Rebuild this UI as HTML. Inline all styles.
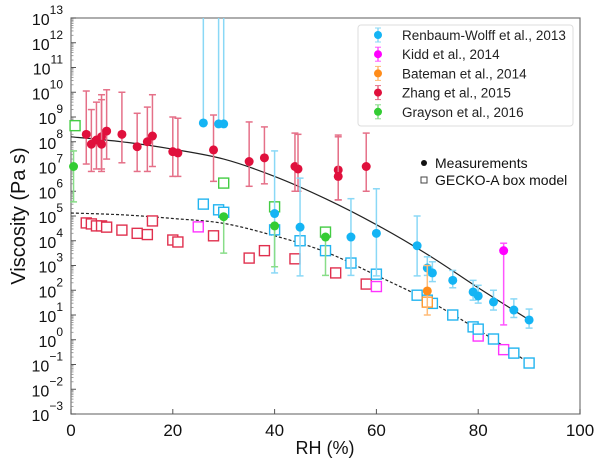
<!DOCTYPE html>
<html><head><meta charset="utf-8"><style>
body{margin:0;background:#fff}
svg{font-family:"Liberation Sans",Arial,sans-serif;display:block}
</style></head><body>
<svg id="c" width="600" height="465" viewBox="0 0 600 465"></svg>
<script>
// data: [RH, log10 mid, log10 lo, log10 hi]
const zhang=[[3,8.3,7.1,10.05],[4,7.9,6.8,9.3],[5,8.07,6.9,9.6],[6,8.2,6.8,9.9],[6,7.9,6.9,9.7],[7,8.43,7.3,10.1],[10,8.3,7.15,10.0],[13,7.8,6.8,9.15],[15,8.0,6.8,9.4],[16,8.23,7.0,9.9],[20,7.6,6.6,9.0],[21,7.55,6.6,8.95],[28,7.67,6.4,9.08],[35,7.2,6.2,8.8],[38,7.35,6.3,8.6],[44,7.0,6.0,8.35],[44.6,6.9,6.0,8.3],[52.5,6.86,5.65,8.27],[52.5,6.6,5.65,8.2],[58,7.0,6.0,8.35]];
const renbaum=[[26,8.76,8.76,13],[29,8.72,8.72,13],[30,8.72,8.72,13],[40,5.1,2.7,7.63],[45,4.55,2.58,6.53],[55,4.15,2.6,5.7],[60,4.3,2.58,6.1],[68,3.8,2.58,5.0],[70,2.9,2.6,3.35],[71,2.7,2.35,3.15],[75,2.4,2.1,2.8],[79,1.93,1.6,2.4],[80,1.77,1.48,2.2],[83,1.53,1.2,2.0],[87,1.2,0.9,1.65],[90,0.8,0.47,1.24]];
const kidd=[[85,3.6,0.6,3.9]];
const bateman=[[70,1.97,1.0,3.0]];
const grayson=[[0.5,7.0,5.57,7.63],[30,4.97,3.5,4.97],[40,4.6,2.95,4.6],[50,4.15,2.6,4.15]];
// GECKO-A model boxes: [RH, log10]
const mGreen=[[0.8,8.65],[30,6.33],[40,5.37],[50,4.35]];
const mBlue=[[26,5.48],[29,5.25],[30,5.15],[40,4.44],[45,4.0],[50,3.6],[55,3.1],[60,2.65],[68,1.8],[70,1.6],[71,1.47],[75,1.0],[79,0.52],[80,0.43],[83,0.03],[87,-0.54],[90,-0.94]];
const mOrange=[[70,1.52]];
const mMagenta=[[25,4.56],[60,2.15],[80,0.15],[85,-0.4]];
const mRed=[[3,4.72],[4,4.68],[5,4.6],[6,4.6],[7,4.55],[10,4.43],[13,4.3],[15,4.25],[16,4.8],[20,4.03],[21,3.95],[28,4.2],[35,3.3],[38,3.6],[44,3.27],[52,2.7],[58,2.25]];
const fitRH=[0,10,20,30,40,50,60,70,80,90];
const fitMeas=[8.2,8.0,7.7,7.3,6.6,5.7,4.65,3.45,2.1,0.8];
const fitModel=[5.12,5.05,4.9,4.7,4.2,3.55,2.6,1.6,0.4,-0.94];
const xTicks=[0,20,40,60,80,100];
const yExps=[13,12,11,10,9,8,7,6,5,4,3,2,1,0,-1,-2,-3];

const X0=71,X1=580,Y0=18,Y1=414,LMIN=-3,LMAX=13;
const sx=v=>X0+(v/100)*(X1-X0);
const sy=v=>Y1-(v-LMIN)/(LMAX-LMIN)*(Y1-Y0);
const svg=document.getElementById('c');const NS='http://www.w3.org/2000/svg';
function mk(t,a,p){const e=document.createElementNS(NS,t);for(const k in a)e.setAttribute(k,a[k]);(p||svg).appendChild(e);return e;}

const frame=mk('rect',{x:X0,y:Y0,width:X1-X0,height:Y1-Y0,fill:'none',stroke:'#777','stroke-width':1.2});


const yg=mk('g',{});


yExps.forEach(e=>{
  const y=sy(e);
  mk('line',{x1:X0,x2:X0+5,y1:y,y2:y,stroke:'#555'},yg);
  if(e>LMIN) for(let m=2;m<10;m++){const yy=sy(e-1+Math.log10(m));mk('line',{x1:X0,x2:X0+2.5,y1:yy,y2:yy,stroke:'#888','stroke-width':0.8},yg);}
  const t=mk('text',{x:X0-8,y:y+7,'text-anchor':'end','font-size':16,fill:'#111'},yg);
  
  
  t.textContent='10';
  const s=mk('tspan',{dy:-11,'font-size':12},t);s.textContent=e<0?'\u2212'+(-e):String(e);
});
const xg=mk('g',{});


xTicks.forEach(v=>{
  const x=sx(v);
  mk('line',{x1:x,x2:x,y1:Y1,y2:Y1-5,stroke:'#555'},xg);
  const t=mk('text',{x:x,y:Y1+22,'text-anchor':'middle','font-size':17,fill:'#111'},xg);
  
  
  t.textContent=v;
});
const xt=mk('text',{x:325,y:454,'text-anchor':'middle','font-size':18,fill:'#111'});


xt.textContent='RH (%)';
const yt=mk('text',{x:25,y:216,'text-anchor':'middle','font-size':20,fill:'#111',transform:'rotate(-90 25 216)'});


yt.textContent='Viscosity (Pa s)';

function curve(ys,dash,name){
  const P=fitRH.map((r,i)=>[sx(r),sy(ys[i])]);
  let d='M'+P[0][0].toFixed(1)+','+P[0][1].toFixed(1);
  for(let i=0;i<P.length-1;i++){
    const p0=P[Math.max(i-1,0)],p1=P[i],p2=P[i+1],p3=P[Math.min(i+2,P.length-1)];
    const c1=[p1[0]+(p2[0]-p0[0])/6,p1[1]+(p2[1]-p0[1])/6];
    const c2=[p2[0]-(p3[0]-p1[0])/6,p2[1]-(p3[1]-p1[1])/6];
    d+=' C'+c1.map(v=>v.toFixed(1)).join(',')+' '+c2.map(v=>v.toFixed(1)).join(',')+' '+p2.map(v=>v.toFixed(1)).join(',');
  }
  const p=mk('path',{d:d,fill:'none',stroke:'#222','stroke-width':1.2,'stroke-dasharray':dash||'none'});
  
  
}
curve(fitMeas,null,'measurement-fit-line');
curve(fitModel,'3,2','model-fit-line');

function boxes(arr,col,name){
  arr.forEach(d=>{
    const r=mk('rect',{x:sx(d[0])-5,y:sy(d[1])-5,width:10,height:10,fill:'#fff',stroke:col,'stroke-width':1.4});
    
    
  });
}
boxes(mRed,'#e0304e','model-box-zhang');
boxes(mGreen,'#44cc44','model-box-grayson');
boxes(mMagenta,'#ff33ff','model-box-kidd');
boxes(mBlue,'#22b4f0','model-box-renbaum');
boxes(mOrange,'#ff9a33','model-box-bateman');

function meas(arr,col,light,name){
  arr.forEach(d=>{
    const x=sx(d[0]);const g=mk('g',{});
    
    
    const yl=sy(d[2]),yh=sy(d[3]);
    mk('line',{x1:x,x2:x,y1:yl,y2:yh,stroke:light,'stroke-width':1.5},g);
    if(d[3]<LMAX) mk('line',{x1:x-3.5,x2:x+3.5,y1:yh,y2:yh,stroke:light,'stroke-width':1.5},g);
    if(d[2]<d[1]) mk('line',{x1:x-3.5,x2:x+3.5,y1:yl,y2:yl,stroke:light,'stroke-width':1.5},g);
    mk('circle',{cx:x,cy:sy(d[1]),r:4.5,fill:col},g);
  });
}
meas(zhang,'#e0103c','#e57088','point-zhang');
meas(renbaum,'#14b4f4','#8ad8f6','point-renbaum');
meas(kidd,'#ff00ff','#ff55ff','point-kidd');
meas(bateman,'#ff8c1a','#ffbb77','point-bateman');
meas(grayson,'#33cc33','#88dd88','point-grayson');

const lg=mk('g',{});


mk('rect',{x:358,y:25,width:215,height:101,rx:3,fill:'#fff',stroke:'#ddd'},lg);
const L=[['Renbaum-Wolff et al., 2013','#14b4f4','#8ad8f6'],['Kidd et al., 2014','#ff00ff','#ff55ff'],['Bateman et al., 2014','#ff8c1a','#ffbb77'],['Zhang et al., 2015','#e0103c','#e57088'],['Grayson et al., 2016','#33cc33','#88dd88']];
L.forEach((l,i)=>{
  const y=35+i*19.2;const g=mk('g',{},lg);
  
  
  mk('line',{x1:378,x2:378,y1:y-7,y2:y+7,stroke:l[2],'stroke-width':1.5},g);
  mk('line',{x1:375,x2:381,y1:y-7,y2:y-7,stroke:l[2]},g);
  mk('line',{x1:375,x2:381,y1:y+7,y2:y+7,stroke:l[2]},g);
  mk('circle',{cx:378,cy:y,r:4,fill:l[1]},g);
  const t=mk('text',{x:402,y:y+5,'font-size':13.5,fill:'#222'},g);t.textContent=l[0];
});
const g2=mk('g',{});


mk('circle',{cx:424,cy:163,r:3,fill:'#111'},g2);
let t=mk('text',{x:435,y:168,'font-size':14,fill:'#111'},g2);t.textContent='Measurements';
mk('rect',{x:421,y:177,width:6,height:6,fill:'#fff',stroke:'#444'},g2);
t=mk('text',{x:435,y:185,'font-size':14,fill:'#111'},g2);t.textContent='GECKO-A box model';
</script>
</body></html>
